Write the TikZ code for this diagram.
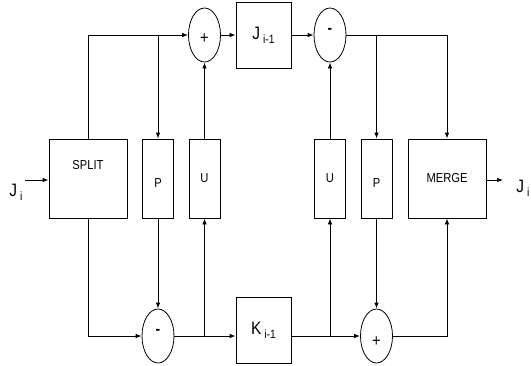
\documentclass[tikz,border=0pt]{standalone}
\usepackage{fontspec}
\setmainfont{Liberation Sans}[FakeStretch=0.86]
\usetikzlibrary{arrows.meta,shapes.geometric}
\begin{document}
\begin{tikzpicture}[x=1pt,y=-1pt,line width=0.8pt,
  box/.style={draw,rectangle,inner sep=0pt,minimum width=#1,minimum height=79pt},
  vbox/.style={box=31pt},
  sumop/.style={draw,ellipse,inner sep=0pt,minimum width=32pt,minimum height=54pt},
  jbox/.style={draw,rectangle,inner sep=0pt,minimum width=55pt,minimum height=66pt},
  arr/.style={-{Latex[length=6pt,width=4.5pt]}},
  lbl/.style={font=\fontsize{13}{13}\selectfont},
  plusf/.style={font=\fontsize{17}{17}\selectfont},
  minusf/.style={font=\fontsize{16}{16}\selectfont\bfseries},
  big/.style={font=\fontsize{18}{18}\selectfont}]
\useasboundingbox (0,0) rectangle (531,365);
% boxes
\node[box=78pt,label={[lbl,name=splitlbl,yshift=13pt]center:SPLIT}] (split) at (88,178.5) {};
\node[vbox,label={[lbl,name=p1lbl,yshift=-5pt]center:P}] (p1) at (158,178.5) {};
\node[vbox,label={[lbl,name=u1lbl]center:U}] (u1) at (204.5,178.5) {};
\node[vbox,label={[lbl,name=u2lbl]center:U}] (u2) at (330,178.5) {};
\node[vbox,label={[lbl,name=p2lbl,yshift=-5pt]center:P}] (p2) at (376.5,178.5) {};
\node[box=78pt,label={[lbl,name=mergelbl]center:MERGE}] (merge) at (447,178.5) {};
% sum operators
\node[sumop,label={[plusf,name=plusTl,yshift=-4pt]center:+}] (plusT) at (204.5,35) {};
\node[sumop,label={[minusf,name=minusTl,yshift=4pt]center:-}] (minusT) at (330,35) {};
\node[sumop,label={[minusf,name=minusBl,yshift=4pt]center:-}] (minusB) at (158,336) {};
\node[sumop,label={[plusf,name=plusBl,yshift=-6pt]center:+}] (plusB) at (376.5,336) {};
% delay boxes
\node[jbox,big] (jb) at (263.5,35) {J\,\raisebox{-4pt}{\fontsize{12}{12}\selectfont i-1}};
\node[jbox,big] (kb) at (263.5,330) {K\,\raisebox{-4pt}{\fontsize{12}{12}\selectfont i-1}};
% input / output
\coordinate (in) at (25,180);
\coordinate (out) at (503,180);
\node[big,anchor=base west,inner sep=0pt] (jin) at (9,196) {J\,\raisebox{-4pt}{\fontsize{12}{12}\selectfont i}};
\node[big,anchor=base west,inner sep=0pt] (jout) at (516,192) {J\,\raisebox{-4pt}{\fontsize{12}{12}\selectfont i}};
% connectors
\draw[arr] (in) -- (in -| split.west);
\draw[arr] (merge.east |- out) -- (out);
\draw[arr] (split.north) |- (plusT.west);
\draw[arr] (p1.north |- plusT) -- (p1.north);
\draw[arr] (u1.north) -- (plusT.south);
\draw[arr] (plusT.east) -- (jb.west);
\draw[arr] (jb.east) -- (minusT.west);
\draw[arr] (minusT.east) -| (merge.north);
\draw[arr] (p2.north |- minusT) -- (p2.north);
\draw[arr] (u2.north) -- (minusT.south);
\draw[arr] (split.south) |- (minusB.west);
\draw[arr] (p1.south) -- (minusB.north);
\draw[arr] (minusB.east) -- (minusB.east -| kb.west);
\draw[arr] (u1.south |- minusB) -- (u1.south);
\draw[arr] (kb.east |- plusB) -- (plusB.west);
\draw[arr] (u2.south |- plusB) -- (u2.south);
\draw[arr] (p2.south) -- (plusB.north);
\draw[arr] (plusB.east) -| (merge.south);
\end{tikzpicture}
\end{document}
